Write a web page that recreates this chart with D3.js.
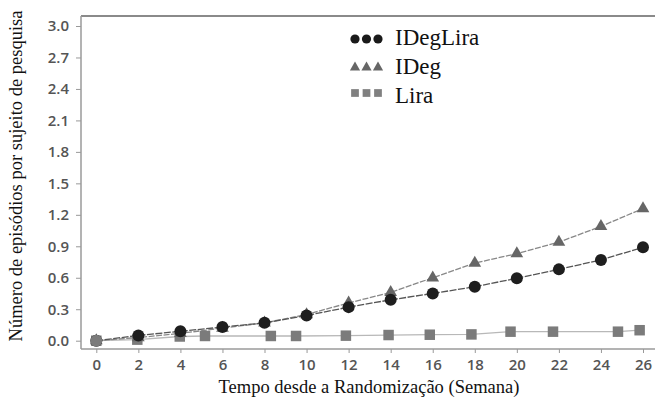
<!DOCTYPE html>
<html><head><meta charset="utf-8">
<script src="https://cdn.jsdelivr.net/npm/d3@7"></script>
<style>body{margin:0;background:#fff}svg{display:block}
.serif{font-family:"Liberation Serif","Times New Roman",Times,"DejaVu Serif",serif}
</style>
</head><body>
<svg id="c" width="655" height="398"></svg>
<script>
const weeks = [0,2,4,6,8,10,12,14,16,18,20,22,24,26];
const idegLira = [0,0.05,0.09,0.13,0.17,0.24,0.32,0.39,0.45,0.515,0.595,0.68,0.77,0.89];
const ideg = [0,0.03,0.07,0.12,0.17,0.25,0.36,0.46,0.6,0.74,0.83,0.94,1.09,1.26];
const liraWeeks = [0,1.95,3.97,5.17,8.3,9.5,11.87,13.9,15.86,17.84,19.7,21.72,24.81,25.84];
const liraVals = [0,0.01,0.04,0.045,0.045,0.045,0.048,0.054,0.057,0.06,0.086,0.086,0.086,0.1];
const yTicks = [0,0.3,0.6,0.9,1.2,1.5,1.8,2.1,2.4,2.7,3.0];
const xTicks = [0,2,4,6,8,10,12,14,16,18,20,22,24,26];
const legendLabels = ["IDegLira","IDeg","Lira"];

const svg = d3.select("#c");
const x = d3.scaleLinear().domain([0,26]).range([96.3,643]);
const y = d3.scaleLinear().domain([0,3]).range([340.7,26]);

// frame
svg.append("line").attr("x1",81).attr("x2",655).attr("y1",16).attr("y2",16).attr("stroke","#8a8a8a").attr("stroke-width",2);
svg.append("line").attr("x1",81).attr("x2",81).attr("y1",16).attr("y2",349).attr("stroke","#9a9a9a").attr("stroke-width",1.5);
svg.append("line").attr("x1",81).attr("x2",655).attr("y1",349).attr("y2",349).attr("stroke","#9a9a9a").attr("stroke-width",1.5);

// y axis
const yAxis = svg.append("g").attr("transform","translate(81,0)")
  .call(d3.axisLeft(y).tickValues(yTicks).tickFormat(d3.format(".1f")).tickSize(5).tickPadding(7));
yAxis.select(".domain").remove();
yAxis.selectAll("line").attr("stroke","#999");
yAxis.selectAll("text").attr("font-family","'Open Sans',sans-serif").attr("font-size",15).attr("font-weight",600).attr("fill","#555");

// x axis
const xAxis = svg.append("g").attr("transform","translate(0,349)")
  .call(d3.axisBottom(x).tickValues(xTicks).tickFormat(d3.format("d")).tickSize(4).tickPadding(6));
xAxis.select(".domain").remove();
xAxis.selectAll("line").attr("stroke","#999");
xAxis.selectAll("text").attr("font-family","'Open Sans',sans-serif").attr("font-size",15).attr("font-weight",600).attr("fill","#555");

// lines
const lineGen = d3.line().x(d=>x(d[0])).y(d=>y(d[1]));
const liraPts = liraWeeks.map((w,i)=>[w,liraVals[i]]);
const idegPts = weeks.map((w,i)=>[w,ideg[i]]);
const idlPts = weeks.map((w,i)=>[w,idegLira[i]]);
svg.append("path").attr("d",lineGen(liraPts)).attr("fill","none").attr("stroke","#b8b8b8").attr("stroke-width",1.3);
svg.append("path").attr("d",lineGen(idegPts)).attr("fill","none").attr("stroke","#888").attr("stroke-width",1.3).attr("stroke-dasharray","6,1.5");
svg.append("path").attr("d",lineGen(idlPts)).attr("fill","none").attr("stroke","#555").attr("stroke-width",1.3).attr("stroke-dasharray","7,1.5");

// markers
const sq = d3.symbol().type(d3.symbolSquare).size(110);
const tri = d3.symbol().type(d3.symbolTriangle).size(70);
svg.append("g").selectAll("path").data(liraPts).join("path")
  .attr("d",sq).attr("transform",d=>`translate(${x(d[0])},${y(d[1])})`).attr("fill","#7b7b7b");
svg.append("g").selectAll("path").data(idegPts).join("path")
  .attr("d",tri).attr("transform",d=>`translate(${x(d[0])},${y(d[1])})`).attr("fill","#666");
svg.append("g").selectAll("circle").data(idlPts).join("circle")
  .attr("cx",d=>x(d[0])).attr("cy",d=>y(d[1])).attr("r",6).attr("fill","#1e1e1e");
svg.append("circle").attr("cx",x(0)).attr("cy",y(0)).attr("r",6).attr("fill","#7b7b7b");

// legend
const leg = svg.append("g");
const legY = [39,67.5,93];
const legX = [355,366.5,378];
legX.forEach(lx=>{
  leg.append("circle").attr("cx",lx).attr("cy",legY[0]).attr("r",4.6).attr("fill","#1a1a1a");
  leg.append("path").attr("d",d3.symbol().type(d3.symbolTriangle).size(45)).attr("transform",`translate(${lx},${legY[1]})`).attr("fill","#666");
  leg.append("path").attr("d",d3.symbol().type(d3.symbolSquare).size(60)).attr("transform",`translate(${lx},${legY[2]})`).attr("fill","#808080");
});
legendLabels.forEach((t,i)=>{
  leg.append("text").attr("class","serif").attr("x",395).attr("y",[45,74,103][i]).text(t)
    .attr("font-size",23).attr("fill","#111");
});

// axis titles
svg.append("text").attr("class","serif").attr("x",369).attr("y",393).attr("text-anchor","middle")
  .attr("font-size",18.5).attr("fill","#111")
  .text("Tempo desde a Randomização (Semana)");
svg.append("text").attr("class","serif").attr("transform","translate(22,176) rotate(-90)").attr("text-anchor","middle")
  .attr("font-size",18.5).attr("fill","#111")
  .text("Número de episódios por sujeito de pesquisa");
</script>
</body></html>
